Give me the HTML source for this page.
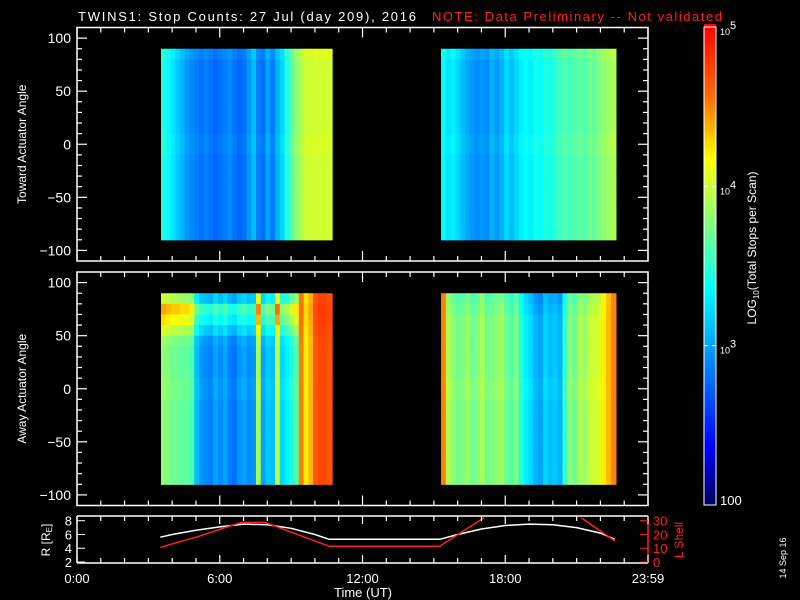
<!DOCTYPE html>
<html><head><meta charset="utf-8"><style>
html,body{margin:0;padding:0;background:#000;}
svg{display:block;font-family:"Liberation Sans",sans-serif;}
</style></head><body>
<svg id="c" width="800" height="600" xmlns="http://www.w3.org/2000/svg">
<rect x="0" y="0" width="800" height="600" fill="#000"/>
<text x="78" y="21" fill="#fff" font-size="13" textLength="338">TWINS1: Stop Counts: 27 Jul (day 209), 2016</text>
<text x="432" y="21" fill="#ff2020" font-size="13" textLength="290">NOTE: Data Preliminary -- Not validated</text>
<g id="plots"></g>
</svg>
<script>
// ---- data ----
const hourTicks = [0,6,12,18,24];
const hourLabels = ["0:00","6:00","12:00","18:00","23:59"];
const angleTicks = [100,50,0,-50,-100];
const block1Hours = [3.53,10.72];
const block2Hours = [15.3,22.65];
const topBlock1 = [3.45,3.35,3.25,3.15,3.05,2.95,2.9,2.85,2.8,2.85,2.8,2.75,2.8,2.85,2.9,2.8,2.75,2.8,2.95,3.1,2.85,2.8,3.0,2.85,3.05,3.2,3.45,3.6,3.8,3.9,4.0,4.0,4.02,4.0,4.02,4.0];
const topBlock2 = [3.35,3.25,3.3,3.2,3.1,3.0,2.95,2.9,2.95,2.9,3.05,2.95,3.05,3.2,3.1,3.2,3.3,3.35,3.3,3.4,3.35,3.45,3.4,3.5,3.55,3.6,3.55,3.6,3.65,3.6,3.7,3.65,3.75,3.8,3.85,3.9];
const botBlock1 = [3.8,3.75,3.7,3.7,3.65,3.65,3.6,3.1,2.95,2.9,2.85,3.0,2.9,3.0,2.85,2.8,2.95,3.0,2.9,2.95,3.9,3.0,3.15,3.1,3.95,3.2,3.3,3.45,3.6,4.5,4.2,4.35,4.65,4.7,4.7,4.65];
const botBlock2 = [4.5,3.9,3.8,3.7,3.75,3.85,3.7,3.75,3.9,3.7,3.75,3.8,3.85,3.7,3.6,3.75,3.45,3.3,3.2,3.05,3.0,3.2,3.1,3.15,3.05,3.5,3.8,3.7,3.9,3.85,3.95,4.0,4.05,4.2,4.35,4.5];
const topProfile = [0.05,0,0,0,0,0,0,0,0.03,0.03,0,0,0,0,0,0,0,0];
const botProfile1 = [0.2,0.6,0.45,0.25,0.05,0,0,0,0.03,0.03,0,0,0,0,0,0,0,0];
const botProfile2 = [-0.1,-0.05,0,0,0,0,0,0,0.03,0.03,0,0,0,0,0,0,0,0];
const rHours = [3.5,4,5,6,7,8,9,10,10.6,15.25,16,17,18,19,20,21,22,22.6];
const rValues = [5.6,6.0,6.6,7.1,7.5,7.4,6.9,6.0,5.3,5.3,6.0,6.8,7.3,7.5,7.4,7.0,6.2,5.3];
const lHours1 = [3.5,5,6.9,7.9,10.6,15.25,17.1];
const lValues1 = [10.7,18,28.8,28.8,11.4,11.4,32];
const lHours2 = [21.2,22.6];
const lValues2 = [32,15.3];

const NS="http://www.w3.org/2000/svg";
const root=document.getElementById('plots');
function mk(tag,attrs,parent){const e=document.createElementNS(NS,tag);for(const k in attrs)e.setAttribute(k,attrs[k]);(parent||root).appendChild(e);return e;}
const X0=77,X1=648;
const xs=h=>X0+h/24*(X1-X0);
function cmap(v){
  let t=(v-2)/3; t=Math.max(0,Math.min(1,t));
  const st=[[0,[0,0,96]],[0.12,[0,0,255]],[0.45,[0,255,255]],[0.72,[255,255,0]],[0.85,[255,110,0]],[1,[255,0,0]]];
  for(let i=1;i<st.length;i++){if(t<=st[i][0]){const a=st[i-1],b=st[i];const f=(t-a[0])/(b[0]-a[0]);
    return 'rgb('+a[1].map((c,j)=>Math.round(c+(b[1][j]-c)*f)).join(',')+')';}}
  return 'rgb(255,0,0)';
}
function panel(top,bot,blocks,title,name){
  const ys=a=>(top+bot)/2-a/110*((bot-top)/2);
  const g=mk('g',{});
  
  
  blocks.forEach((b)=>{
    const [h0,h1]=b.hours;const n=b.vals.length;const w=(xs(h1)-xs(h0))/n;
    b.vals.forEach((v,i)=>{
      b.profile.forEach((p,r)=>{
        const a0=90-r*10;
        const rc=mk('rect',{x:(xs(h0)+i*w).toFixed(2),y:ys(a0).toFixed(2),width:(w+0.6).toFixed(2),height:(ys(a0-10)-ys(a0)+0.6).toFixed(2),fill:cmap(v+p*(v<4.2?1:0.1))},g);
        
        
      });
    });
  });
  const fr=mk('rect',{x:X0,y:top,width:X1-X0,height:bot-top,fill:'none',stroke:'#fff','stroke-width':1.5},g);
  
  
  for(let a=-100;a<=100;a+=10){const L=a%50===0?10:5;
    mk('line',{x1:X0,x2:X0+L,y1:ys(a),y2:ys(a),stroke:'#fff','stroke-width':1.2},g);
    mk('line',{x1:X1,x2:X1-L,y1:ys(a),y2:ys(a),stroke:'#fff','stroke-width':1.2},g);}
  for(let h=0;h<=24;h++){const L=h%6===0?10:5;
    mk('line',{x1:xs(h),x2:xs(h),y1:top,y2:top+L,stroke:'#fff','stroke-width':1.2},g);
    mk('line',{x1:xs(h),x2:xs(h),y1:bot,y2:bot-L,stroke:'#fff','stroke-width':1.2},g);}
  angleTicks.forEach(a=>{const t=mk('text',{x:71,y:ys(a)+5,fill:'#fff','font-size':14,'text-anchor':'end'},g);t.textContent=String(a).replace('-','\u2212');
    });
  const tt=mk('text',{x:0,y:0,fill:'#fff','font-size':12,'text-anchor':'middle',transform:`translate(26,${(top+bot)/2}) rotate(-90)`},g);
  tt.textContent=title;
  
  
}
panel(27.5,261,[{hours:block1Hours,vals:topBlock1,profile:topProfile},{hours:block2Hours,vals:topBlock2,profile:topProfile}],'Toward Actuator Angle','toward-panel');
panel(272,505.5,[{hours:block1Hours,vals:botBlock1,profile:botProfile1},{hours:block2Hours,vals:botBlock2,profile:botProfile2}],'Away Actuator Angle','away-panel');

// colorbar
const cb=mk('g',{});


const CT=27,CB=505;const cy=v=>CB-(v-2)/3*(CB-CT);
for(let v=2;v<5;v+=0.02){mk('rect',{x:704,y:cy(v+0.02),width:12,height:(cy(v)-cy(v+0.02)+0.5),fill:cmap(v)},cb);}
mk('rect',{x:704,y:CT,width:12,height:CB-CT,fill:'none',stroke:'#fff','stroke-width':1},cb);
[3,4].forEach(v=>{mk('line',{x1:704,x2:708,y1:cy(v),y2:cy(v),stroke:'#fff'},cb);mk('line',{x1:712,x2:716,y1:cy(v),y2:cy(v),stroke:'#fff'},cb);});
[[5,'5'],[4,'4'],[3,'3']].forEach(([v,e])=>{const t=mk('text',{x:720,y:cy(v)+8,fill:'#fff','font-size':9},cb);t.innerHTML='10<tspan dy="-6" font-size="11">'+e+'</tspan>';
  });
const c100=mk('text',{x:720,y:505,fill:'#fff','font-size':13},cb);c100.textContent='100';


const ct=mk('text',{x:0,y:0,fill:'#fff','font-size':12,'text-anchor':'middle',transform:'translate(756,248) rotate(-90)'},cb);
ct.innerHTML='LOG<tspan font-size="8" dy="3">10</tspan><tspan dy="-3">(Total Stops per Scan)</tspan>';



// orbit strip
const og=mk('g',{});


const OT=516,OB=563;
const ry=r=>520.7+(8-r)*6.88;
const ly=l=>ry(2+l/5);
const clip=mk('clipPath',{id:'oc'},og);mk('rect',{x:X0,y:OT,width:X1-X0,height:OB-OT},clip);
function pl(hs,vs,f,col,name){const p=mk('polyline',{points:hs.map((h,i)=>xs(h).toFixed(1)+','+f(vs[i]).toFixed(1)).join(' '),fill:'none',stroke:col,'stroke-width':1.5,'clip-path':'url(#oc)'},og);
  }
pl(rHours,rValues,ry,'#fff','r-line');
pl(lHours1,lValues1,ly,'#ff2020','l-shell-line');
pl(lHours2,lValues2,ly,'#ff2020','l-shell-line-2');
mk('line',{x1:X0,x2:X1,y1:OT,y2:OT,stroke:'#fff','stroke-width':1.5},og);
mk('line',{x1:X0,x2:X1,y1:OB,y2:OB,stroke:'#fff','stroke-width':1.5},og);
mk('line',{x1:X0,x2:X0,y1:OT,y2:OB,stroke:'#fff','stroke-width':1.5},og);
mk('line',{x1:X1,x2:X1,y1:OT,y2:OB,stroke:'#ff2020','stroke-width':1.5},og);
for(let h=0;h<=24;h++){const L=h%6===0?8:5;
  mk('line',{x1:xs(h),x2:xs(h),y1:OT,y2:OT+L,stroke:'#fff','stroke-width':1.2},og);
  mk('line',{x1:xs(h),x2:xs(h),y1:OB,y2:OB-L,stroke:'#fff','stroke-width':1.2},og);}
[2,4,6,8].forEach(r=>{mk('line',{x1:X0,x2:X0+8,y1:ry(r),y2:ry(r),stroke:'#fff'},og);
  const t=mk('text',{x:72,y:ry(r)+5,fill:'#fff','font-size':13,'text-anchor':'end'},og);t.textContent=r;
  });
[0,10,20,30].forEach(l=>{mk('line',{x1:X1,x2:X1-8,y1:ly(l),y2:ly(l),stroke:'#ff2020'},og);
  const t=mk('text',{x:653,y:ly(l)+5,fill:'#ff2020','font-size':13},og);t.textContent=l;
  });
const rt=mk('text',{x:0,y:0,fill:'#fff','font-size':12,'text-anchor':'middle',transform:'translate(50,540) rotate(-90)'},og);
rt.innerHTML='R [R<tspan font-size="8" dy="2">E</tspan><tspan dy="-2">]</tspan>';


const lt=mk('text',{x:0,y:0,fill:'#ff2020','font-size':12,'text-anchor':'middle',transform:'translate(683,540) rotate(-90)'},og);
lt.textContent='L Shell';


hourTicks.forEach((h,i)=>{const t=mk('text',{x:xs(h),y:583,fill:'#fff','font-size':13,'text-anchor':'middle'},og);t.textContent=hourLabels[i];
  });
const xt=mk('text',{x:363,y:597,fill:'#fff','font-size':13,'text-anchor':'middle'},og);
xt.textContent='Time (UT)';


const dt=mk('text',{x:0,y:0,fill:'#fff','font-size':9,'text-anchor':'middle',transform:'translate(786,558) rotate(-90)'},og);
dt.textContent='14 Sep 16';


</script>
</body></html>
